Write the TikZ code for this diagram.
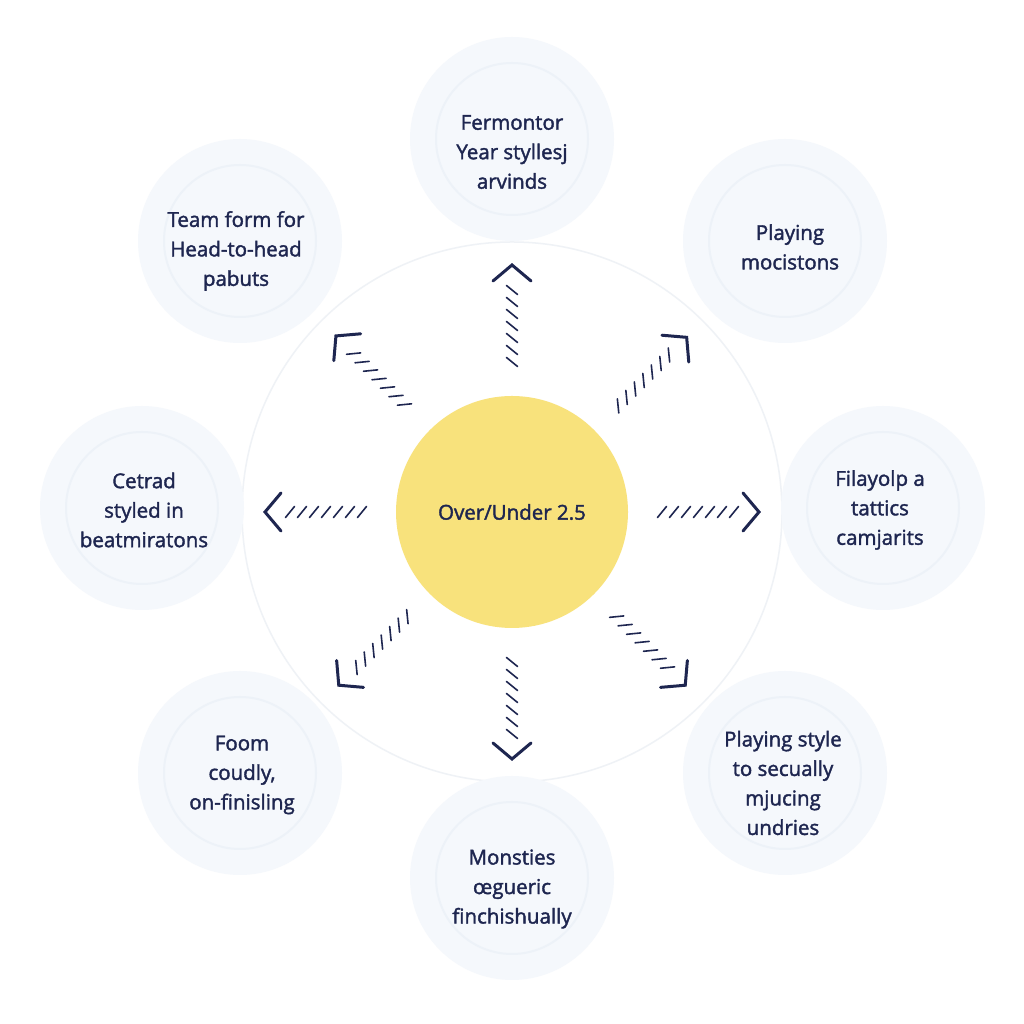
\documentclass[tikz,border=0pt]{standalone}
\usepackage{fontspec}
\setmainfont{Open Sans}[RawFeature={embolden=1.8}]
\usetikzlibrary{calc}
\definecolor{ink}{HTML}{1E2650}
\definecolor{pale}{HTML}{F5F8FC}
\definecolor{ringc}{HTML}{EDF2F8}
\definecolor{bigring}{HTML}{EFF2F6}
\definecolor{sun}{HTML}{F8E27C}
\tikzset{
  topic/.style={circle, minimum size=204pt, fill=pale, inner sep=0pt},
  txt/.style={align=center, text=ink, font=\fontsize{20.5}{29.5}\selectfont},
  chev/.style={draw=ink, line width=3pt, line cap=round, line join=miter},
  hatch/.style={draw=ink, line width=1.6pt, line cap=round},
  pics/hatcharrow/.style={code={
    \foreach \s in {0,12,...,72} {
      \draw[hatch] (\s-4.5,-5.5) -- (\s+4.5,5.5);
    }
    \draw[chev] (81,19) -- (97,0) -- (81,-19);
  }}
}
\begin{document}
\begin{tikzpicture}[x=1pt,y=1pt]
\useasboundingbox (0,0) rectangle (1024,1024);
\fill[white] (0,0) rectangle (1024,1024);
% big faint ring
\node[circle, draw=bigring, line width=1.5pt, minimum size=540pt, inner sep=0pt] (bigc) at (512,512) {};
% topic circles
\node[topic] (t1) at (512,885) {};
\node[topic] (t2) at (240,783) {};
\node[topic] (t3) at (785,783) {};
\node[topic] (t4) at (142,516) {};
\node[topic] (t5) at (883,516) {};
\node[topic] (t6) at (240,251) {};
\node[topic] (t7) at (785,251) {};
\node[topic] (t8) at (512,146) {};
\foreach \n in {t1,t2,t3,t4,t5,t6,t7,t8}
  \draw[ringc, line width=2pt] (\n.center) circle (76);
% labels
\node[txt] (l1) at (512,872) {Fermontor\\Year styllesj\\arvinds};
\node[txt] (l2) at (236,773) {Team form for\\Head-to-head\\pabuts};
\node[txt] (l3) at (790,777) {Playing\\mocistons};
\node[txt] (l4) at (144,514) {Cetrad\\styled in\\beatmiratons};
\node[txt] (l5) at (880,514) {Filayolp a\\tattics\\camjarits};
\node[txt] (l6) at (242,249) {Foom\\coudly,\\on-finisling};
\node[txt] (l7) at (783,241) {Playing style\\to secually\\mjucing\\undries};
\node[txt] (l8) at (512,135) {Monsties\\œgueric\\finchishually};
% centre
\node[circle, fill=sun, minimum size=232pt, inner sep=0pt] (c) at (512,512) {};
\node[txt] (cl) at (c.center) {Over/Under 2.5};
% hatched arrows
\foreach \a/\r in {90/150,135/152,180/150,225/148,270/150,315/148,0/150,45/150} {
  \pic[rotate=\a] at ($(c.center)+(\a:\r)$) {hatcharrow};
}
\end{tikzpicture}
\end{document}
